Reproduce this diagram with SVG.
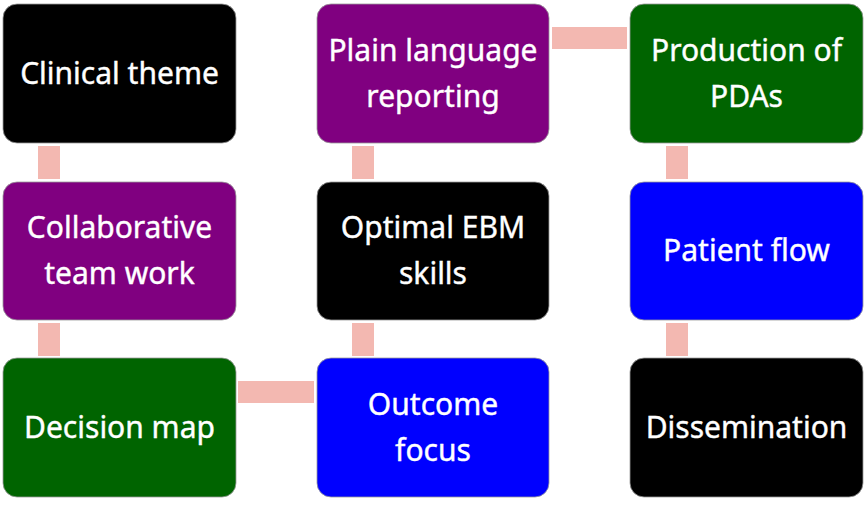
<svg xmlns="http://www.w3.org/2000/svg" width="865" height="505" viewBox="0 0 865 505">
<style>
.box{stroke:#999;stroke-width:0.8}
.k{fill:#000}.p{fill:#800080}.g{fill:#006400}.b{fill:#0000ff}
.c{fill:#f3b8b1}
text{font-family:"Noto Sans","Open Sans","DejaVu Sans",sans-serif;font-size:30px;fill:#fff;text-anchor:middle;stroke:#fff;stroke-width:0.4}
</style>
<rect width="865" height="505" fill="#fff"/>
<g id="connectors">
<rect class="c" x="38" y="146" width="22" height="33"/>
<rect class="c" x="38" y="323" width="22" height="33"/>
<rect class="c" x="352" y="146" width="22" height="33"/>
<rect class="c" x="352" y="323" width="22" height="33"/>
<rect class="c" x="666" y="146" width="22" height="33"/>
<rect class="c" x="666" y="323" width="22" height="33"/>
<rect class="c" x="552" y="27" width="75" height="22"/>
<rect class="c" x="238" y="381" width="76" height="22"/>
</g>
<g id="n1"><rect class="box k" x="3" y="4" width="233" height="139" rx="14"/><text x="119.5" y="84">Clinical theme</text></g>
<g id="n2"><rect class="box p" x="3" y="182" width="233" height="138" rx="14"/><text x="119.5" y="238">Collaborative</text><text x="119.5" y="284">team work</text></g>
<g id="n3"><rect class="box g" x="3" y="358" width="233" height="139" rx="14"/><text x="119.5" y="438">Decision map</text></g>
<g id="n4"><rect class="box p" x="317" y="4" width="232" height="139" rx="14"/><text x="433" y="61">Plain language</text><text x="433" y="107">reporting</text></g>
<g id="n5"><rect class="box k" x="317" y="182" width="232" height="138" rx="14"/><text x="433" y="238">Optimal EBM</text><text x="433" y="284">skills</text></g>
<g id="n6"><rect class="box b" x="317" y="358" width="232" height="139" rx="14"/><text x="433" y="415">Outcome</text><text x="433" y="461">focus</text></g>
<g id="n7"><rect class="box g" x="630" y="4" width="233" height="139" rx="14"/><text x="746.5" y="61">Production of</text><text x="746.5" y="107">PDAs</text></g>
<g id="n8"><rect class="box b" x="630" y="182" width="233" height="138" rx="14"/><text x="746.5" y="261">Patient flow</text></g>
<g id="n9"><rect class="box k" x="630" y="358" width="233" height="139" rx="14"/><text x="746.5" y="438">Dissemination</text></g>
</svg>
